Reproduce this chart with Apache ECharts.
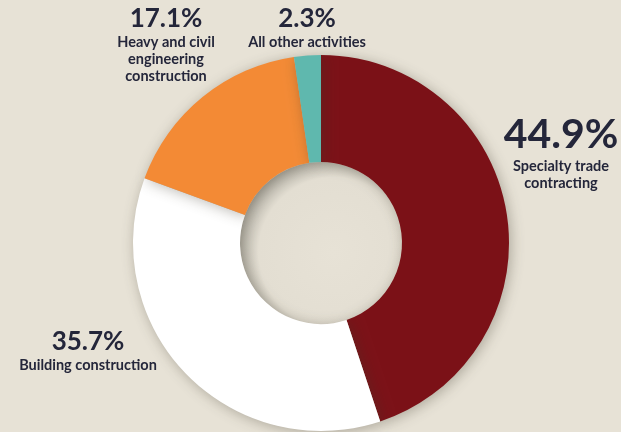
<!DOCTYPE html>
<html>
<head>
<meta charset="utf-8">
<script src="https://cdn.jsdelivr.net/npm/echarts@6/dist/echarts.min.js"></script>
<style>
html,body{margin:0;padding:0;background:#e7e2d6;}
#c{width:621px;height:432px;}
</style>
</head>
<body>
<div id="c"></div>
<script>
const categories = ["Specialty trade\ncontracting", "Building construction", "Heavy and civil\nengineering\nconstruction", "All other activities"];
const shares = [44.9, 35.7, 17.1, 2.3];
const sliceColors = ["#7b1117", "#ffffff", "#f38a35", "#5fb8ae"];

const labelPos = [
  {x: 561, y: 112},
  {x: 88, y: 327},
  {x: 166, y: 4},
  {x: 307, y: 4}
];

const chart = echarts.init(document.getElementById('c'), null, {renderer: 'canvas'});
const FONT = 'Lato, "Open Sans", sans-serif';
chart.setOption({
  backgroundColor: '#e7e2d6',
  animation: false,
  series: [
    {
      type: 'pie',
      center: [321, 243],
      radius: [0, 81],
      silent: true,
      label: {show: false},
      labelLine: {show: false},
      data: [{value: 1, itemStyle: {color: {
        type: 'radial', x: 0.58, y: 0.56, r: 0.62,
        colorStops: [
          {offset: 0, color: '#e7e2d6'},
          {offset: 0.75, color: '#e3ded2'},
          {offset: 1, color: '#a9a69c'}
        ]}}}]
    },
    {
      type: 'pie',
      center: [321, 243],
      radius: [81, 188],
      startAngle: 90,
      clockwise: true,
      itemStyle: {shadowBlur: 14, shadowColor: 'rgba(60,55,40,0.35)', shadowOffsetX: 2, shadowOffsetY: 2},
      data: categories.map((c, i) => ({name: c, value: shares[i], itemStyle: {color: sliceColors[i]}})),
      labelLine: {show: false},
      label: {
        show: true,
        position: 'outside',
        overflow: 'none',
        bleedMargin: 0,
        color: '#24263a',
        fontFamily: FONT,
        formatter: p => (p.dataIndex === 0 ? '{big|' : '{pct|') + p.value.toFixed(1) + '%}\n{nm|' + p.name + '}',
        rich: {
          big: {fontSize: 41, fontFamily: FONT, fontWeight: 'bold', color: '#24263a', lineHeight: 46, align: 'center'},
          pct: {fontSize: 26, fontFamily: FONT, fontWeight: 'bold', color: '#24263a', lineHeight: 30, align: 'center'},
          nm: {fontSize: 14.5, fontFamily: FONT, fontWeight: 'bold', color: '#24263a', lineHeight: 17, align: 'center'}
        }
      },
      labelLayout: params => ({
        x: labelPos[params.dataIndex].x,
        y: labelPos[params.dataIndex].y,
        align: 'center',
        verticalAlign: 'top'
      })
    }
  ]
});
</script>
</body>
</html>
